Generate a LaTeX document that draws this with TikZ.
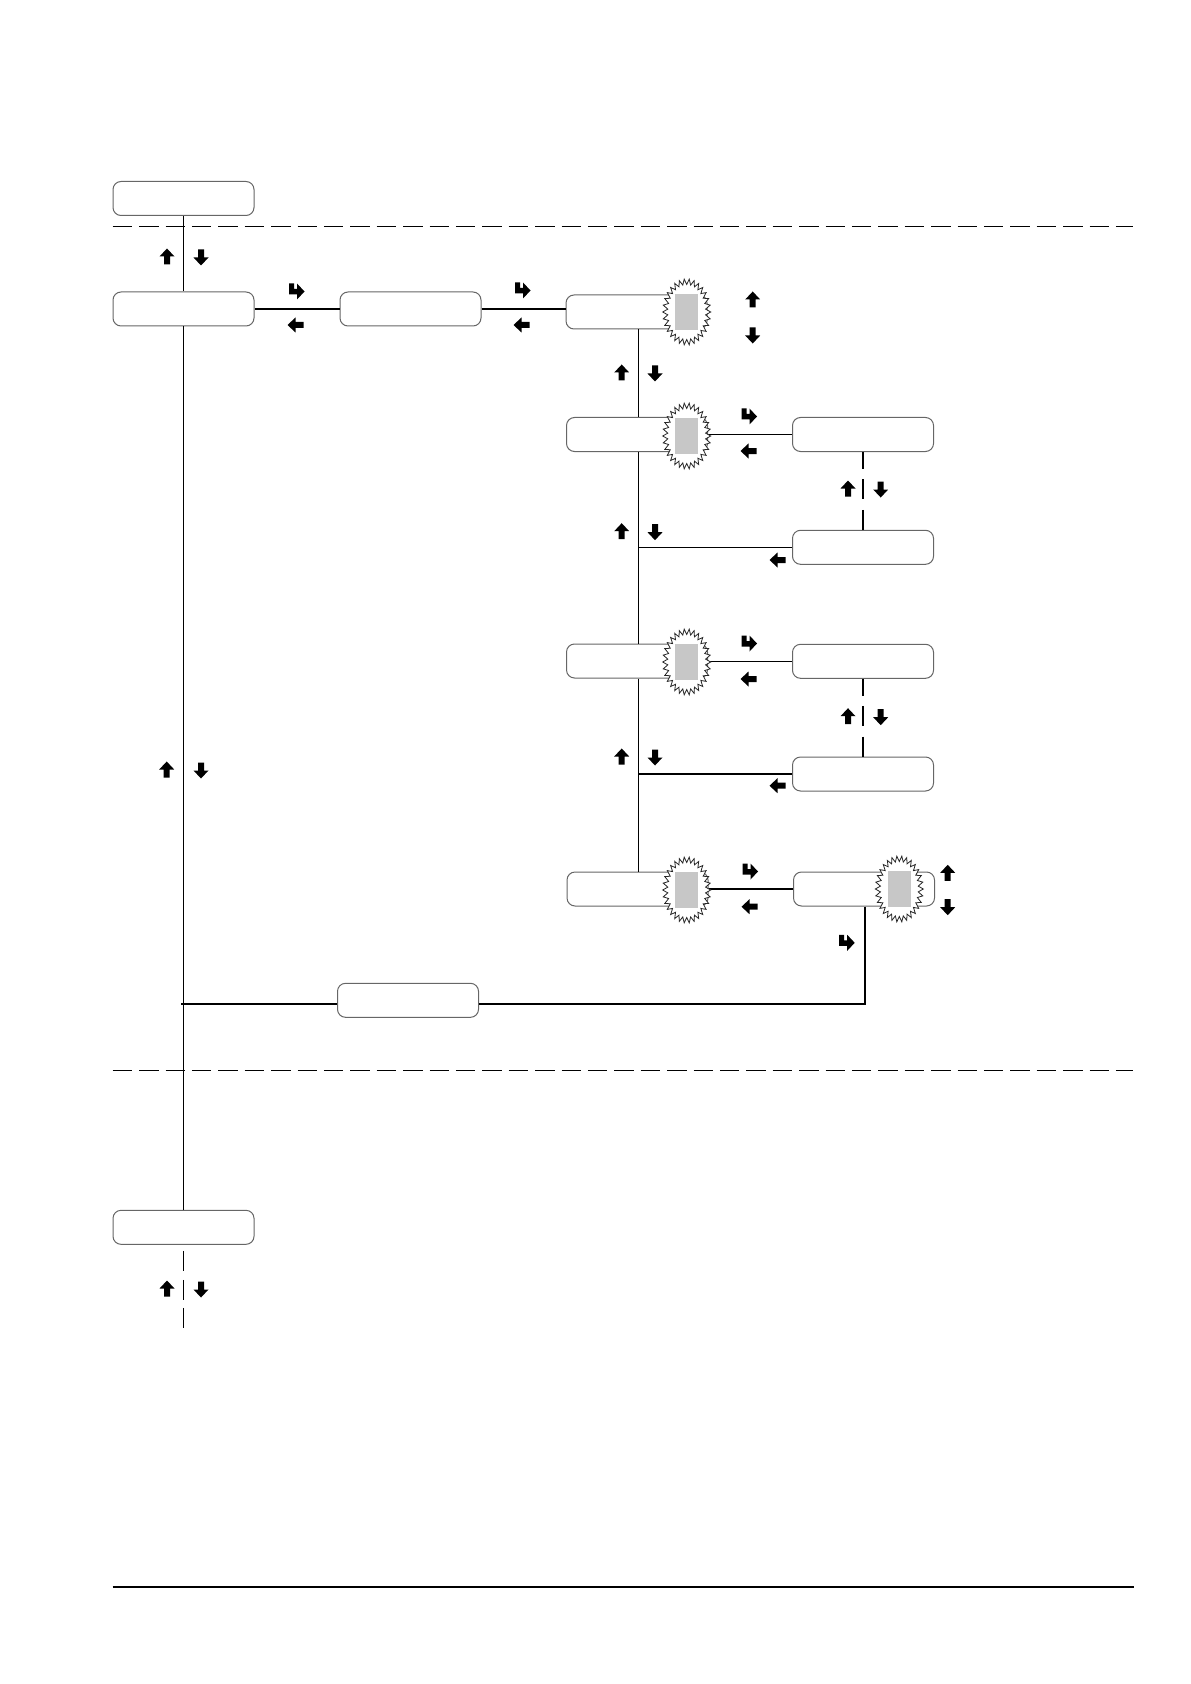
\documentclass[tikz,border=0pt]{standalone}
\usetikzlibrary{calc}
\begin{document}
\begin{tikzpicture}[x=0.5pt,y=-0.5pt,
  box/.style={draw=black!60, line width=0.5pt, rounded corners=4pt, fill=white,
    minimum width=70.5pt, minimum height=17pt, inner sep=0pt},
  conn/.style={line width=0.55pt, black},
  dashline/.style={line width=0.6pt, black, dash pattern=on 9.75pt off 3.45pt},
  uarr/.pic={\fill (0,-8.5) -- (7.5,-0.5) -- (3,-0.5) -- (3,7.5) -- (-3,7.5) -- (-3,-0.5) -- (-7.5,-0.5) -- cycle;},
  darr/.pic={\fill (0,8.5) -- (7.5,0.5) -- (3,0.5) -- (3,-7.5) -- (-3,-7.5) -- (-3,0.5) -- (-7.5,0.5) -- cycle;},
  larr/.pic={\fill (-8.5,0) -- (-0.5,-7.5) -- (-0.5,-3) -- (7.5,-3) -- (7.5,3) -- (-0.5,3) -- (-0.5,7.5) -- cycle;},
  enterarr/.pic={\fill (-7.5,-8.5) -- (-2.5,-8.5) -- (-2.5,-3) -- (0.5,-3) -- (0.5,-8.5) -- (8,-0.5) -- (0.5,7.5) -- (0.5,2.5) -- (-7.5,2.5) -- cycle;},
  burst/.pic={
    \draw[line width=0.4pt, black!85, fill=white] (0:24 and 33)
      \foreach \i in {0,...,29} { -- ({\i*360/30+360/60}:19 and 27.5) -- ({(\i+1)*360/30}:24 and 33) } -- cycle;
    \fill[black!22] (-11.5,-18) rectangle (11.5,18);
  }]
\useasboundingbox (0,0) rectangle (1190,1684);

% separators
\draw[dashline] (112.7,226.7) -- (1133.3,226.7);
\draw[dashline] (112.7,1070.7) -- (1133.3,1070.7);
\draw[line width=0.8pt] (112.7,1587) -- (1134,1587);

% boxes
\node[box] (b1) at (183.5,198.5) {};
\node[box] (b2) at (183.5,309) {};
\node[box] (b3) at (410.5,309) {};
\node[box] (b4) at (636.5,312) {};
\node[box] (b5) at (637,434.5) {};
\node[box] (b6) at (863,434.5) {};
\node[box] (b7) at (863,547.3) {};
\node[box] (b8) at (637,661) {};
\node[box] (b9) at (863,661.3) {};
\node[box] (b10) at (863,774) {};
\node[box] (b11) at (637.5,889) {};
\node[box] (b12) at (864,889) {};
\node[box] (b13) at (408,1000.3) {};
\node[box] (b14) at (183.5,1227.3) {};

\coordinate (t) at (638.3,0);
\coordinate (c1) at (865,1004);
\coordinate (c2) at (180.7,1004);

% connectors
\draw[conn] (b1.south) -- (b2.north);
\draw[conn] (b2.south) -- (b14.north);
\draw[conn] ($(b14.south)+(0,6)$) -- ++(0,20) ++(0,9) -- ++(0,20) ++(0,8) -- ++(0,20);
\draw[conn] (b2.east) -- (b3.west);
\draw[conn] (b3.east) -- (b3.east -| b4.west);
\draw[conn] (b4.south -| t) -- (b5.north -| t);
\draw[conn] (b5.south -| t) -- (b8.north -| t);
\draw[conn] (b8.south -| t) -- (b11.north -| t);
\draw[conn] (b5.east |- b6.west) -- (b6.west);
\draw[conn] (b8.east |- b9.west) -- (b9.west);
\draw[conn] (b11.east |- b12.west) -- (b12.west);
\draw[conn] (t |- b7.west) -- (b7.west);
\draw[conn] (t |- b10.west) -- (b10.west);
\draw[conn] (b6.south) -- ++(0,17) ($(b6.south)+(0,27)$) -- ++(0,20) ($(b7.north)+(0,-20)$) -- (b7.north);
\draw[conn] (b9.south) -- ++(0,17) ($(b9.south)+(0,27)$) -- ++(0,20) ($(b10.north)+(0,-20)$) -- (b10.north);
\draw[conn] (b12.south -| c1) -- (c1) -- (b13.east |- c1);
\draw[conn] (b13.west |- c1) -- (c2);

% bursts
\pic at (686.7,312) {burst};
\pic at (686.7,436) {burst};
\pic at (686.7,662) {burst};
\pic at (686.7,890) {burst};
\pic at (899.3,889) {burst};

% key glyphs
\pic at (167,257) {uarr};  \pic at (201,257) {darr};
\pic at (296.5,292) {enterarr}; \pic at (296,325) {larr};
\pic at (522.5,291) {enterarr}; \pic at (522,325) {larr};
\pic at (752.7,300) {uarr}; \pic at (752.7,335) {darr};
\pic at (621.7,373) {uarr}; \pic at (655,373) {darr};
\pic at (749,417) {enterarr}; \pic at (749,451) {larr};
\pic at (848,489) {uarr}; \pic at (880.7,489) {darr};
\pic at (621.7,531.7) {uarr}; \pic at (655,531.7) {darr};
\pic at (778,560) {larr};
\pic at (749,644) {enterarr}; \pic at (749,679) {larr};
\pic at (848,716.7) {uarr}; \pic at (880.7,716.7) {darr};
\pic at (621.7,757) {uarr}; \pic at (655,757) {darr};
\pic at (778,785.7) {larr};
\pic at (750,872) {enterarr}; \pic at (750,906.7) {larr};
\pic at (947.7,873.3) {uarr}; \pic at (947.7,906.7) {darr};
\pic at (846.7,943.3) {enterarr};
\pic at (166.7,770) {uarr}; \pic at (201,770) {darr};
\pic at (167,1289) {uarr}; \pic at (201,1289) {darr};
\end{tikzpicture}
\end{document}
